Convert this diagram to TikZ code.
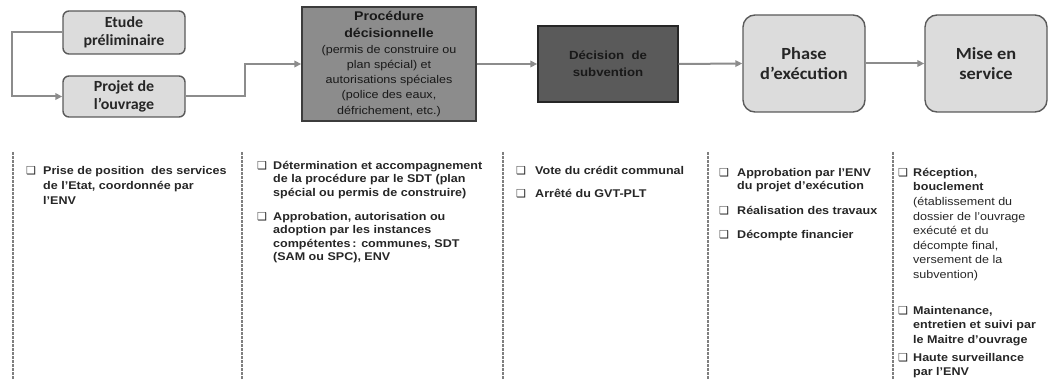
\documentclass[tikz,border=0pt]{standalone}
\usepackage{fontspec}
\setmainfont{Liberation Sans}[FakeStretch=1.12]
\newfontfamily\calib{Carlito}[FakeStretch=1.03]
\newfontfamily\calibw{Carlito}[FakeStretch=1.08]
\newfontfamily\djv{DejaVu Sans}
\usetikzlibrary{arrows.meta}
\definecolor{txt}{HTML}{262626}
\definecolor{boxline}{HTML}{5A5A5A}
\definecolor{lightbox}{HTML}{DCDCDC}
\definecolor{procfill}{HTML}{8C8C8C}
\definecolor{procline}{HTML}{3C3C3C}
\definecolor{decfill}{HTML}{5A5A5A}
\definecolor{decline}{HTML}{262626}
\definecolor{conncol}{HTML}{8C8C8C}
\definecolor{sepcol}{HTML}{7F7F7F}
\tikzset{
  lbox/.style={draw=boxline, fill=lightbox, line width=1.4pt, rounded corners=6pt,
    align=center, inner sep=0pt, text=txt,
    font=\calib\bfseries\fontsize{15.5}{18.5}\selectfont},
  conn/.style={draw=conncol, line width=2pt, -{Triangle[length=7pt,width=6.5pt]}},
  sepline/.style={draw=sepcol, line width=1.2pt, dash pattern=on 2.5pt off 1.5pt},
  bul/.style={anchor=base west, inner sep=0pt, text=txt, font=\djv\fontsize{11}{11}\selectfont},
  itm/.style={anchor=north west, inner sep=0pt, align=left, text=txt,
    font=\bfseries\fontsize{11.2}{#1}\selectfont},
  itm/.default=13.6
}
\newcommand\st{\rule{0pt}{11pt}}
\begin{document}
\begin{tikzpicture}[x=1pt,y=-1pt]
\useasboundingbox (0,0) rectangle (1051,385);
% top boxes
\node[lbox, minimum width=122pt, minimum height=43pt] (etude) at (124,32.5) {Etude\\préliminaire};
\node[lbox, minimum width=122pt, minimum height=41pt] (projet) at (124,96.5) {Projet de\\l’ouvrage};
\node[draw=procline, fill=procfill, line width=1.4pt, minimum width=174pt, minimum height=114pt,
  inner sep=0pt, text width=172pt, align=center, text=black!90] (proc) at (389,64)
  {{\bfseries\fontsize{12.6}{17}\selectfont Procédure\\décisionnelle\par}
   \fontsize{11.2}{15.3}\selectfont (permis de construire ou\\plan spécial) et\\autorisations spéciales\\(police des eaux,\\défrichement, etc.)\par};
\node[draw=decline, fill=decfill, line width=1.4pt, minimum width=140pt, minimum height=76pt,
  inner sep=0pt, align=center, text=black!90, font=\bfseries\fontsize{11.8}{17}\selectfont] (dec) at (608,64)
  {Décision\ \ de\\subvention};
\node[lbox, rounded corners=12pt, minimum width=122pt, minimum height=97pt, font=\calibw\bfseries\fontsize{17}{19.5}\selectfont] (phase) at (804,63.5) {Phase\\d’exécution};
\node[lbox, rounded corners=12pt, minimum width=122pt, minimum height=97pt, font=\calibw\bfseries\fontsize{17}{19.5}\selectfont] (mise) at (986,63.5) {Mise en\\service};
% connectors
\coordinate (l1) at (12,32.5);
\draw[conn] (etude.west) -- (l1) |- (projet.west);
\coordinate (l2) at (245,96.5);
\draw[conn] (projet.east) -- (l2) |- (proc.west);
\draw[conn] (proc.east) -- (dec.west);
\draw[conn] (dec.east) -- (phase.west);
\draw[conn] (phase.east) -- (mise.west);
% separators
\foreach \sx in {13,242,503,708,893} \draw[sepline] (\sx,152) -- (\sx,380);
% column 1
\node[bul] (b11) at (26,174) {❑};
\node[itm=15] (t11) at (43,163) {\st Prise de position\ \ des services\\de l’Etat, coordonnée par\\l’ENV};
% column 2
\node[bul] (b21) at (257,169) {❑};
\node[itm=13.4] (t21) at (273,158) {\st Détermination et accompagnement\\de la procédure par le SDT (plan\\spécial ou permis de construire)};
\node[bul] (b22) at (257,220) {❑};
\node[itm=13.4] (t22) at (273,209) {\st Approbation,\ autorisation ou\\adoption\ par les instances\\compétentes\,: communes, SDT\\(SAM ou\ SPC), ENV};
% column 3
\node[bul] (b31) at (516,174) {❑};
\node[itm] (t31) at (535,163) {\st Vote du crédit communal};
\node[bul] (b32) at (516,197) {❑};
\node[itm] (t32) at (535,186) {\st Arrêté du GVT-PLT};
% column 4
\node[bul] (b41) at (719,176) {❑};
\node[itm=13.4] (t41) at (737,165) {\st Approbation\ par l’ENV\\du projet d’exécution};
\node[bul] (b42) at (719,214) {❑};
\node[itm] (t42) at (737,203) {\st Réalisation des travaux};
\node[bul] (b43) at (719,238) {❑};
\node[itm] (t43) at (737,227) {\st Décompte financier};
% column 5
\node[bul] (b51) at (898,176) {❑};
\node[itm=14.6] (t51) at (913,165) {\st Réception,\\bouclement\\\mdseries(établissement du\\\mdseries dossier de l’ouvrage\\\mdseries exécuté et du\\\mdseries décompte final,\\\mdseries versement de la\\\mdseries subvention)};
\node[bul] (b52) at (898,314) {❑};
\node[itm=14.6] (t52) at (913,303) {\st Maintenance,\\entretien et suivi\ par\\le Maitre d’ouvrage};
\node[bul] (b53) at (898,361) {❑};
\node[itm=14.6] (t53) at (913,350) {\st Haute surveillance\\par l’ENV};
\end{tikzpicture}
\end{document}
